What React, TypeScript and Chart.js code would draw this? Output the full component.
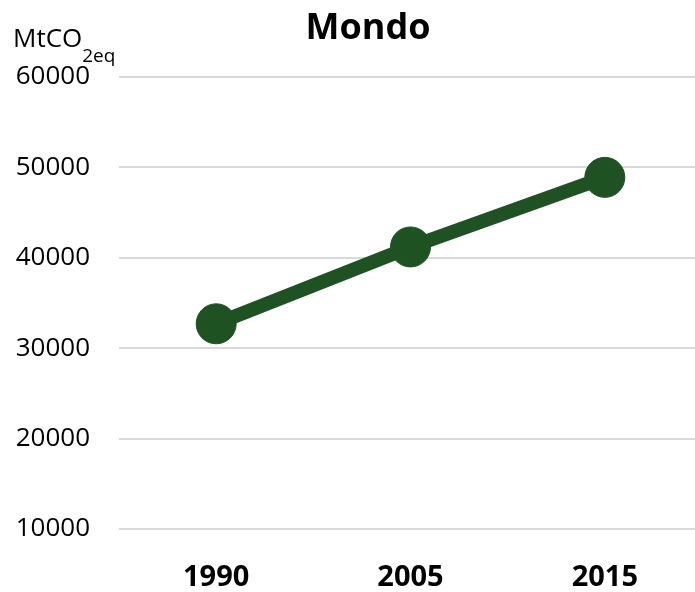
import React, { useEffect, useRef } from "react";
import { Chart, registerables } from "chart.js";

Chart.register(...registerables);

const categories: string[] = ["1990", "2005", "2015"];
const emissions: number[] = [32700, 41200, 48900];
const yMin = 10000;
const yMax = 60000;
const yStep = 10000;
const chartTitle = "Mondo";
const unitMain = "MtCO";
const unitSub = "2eq";

const FONT = "'Open Sans', 'Noto Sans', sans-serif";
const GREEN = "#1f5223";

const textPlugin = {
  id: "customText",
  afterDraw(chart: Chart) {
    const ctx = chart.ctx;
    ctx.save();
    ctx.fillStyle = "#000000";
    ctx.textBaseline = "alphabetic";
    ctx.font = `bold 36px ${FONT}`;
    ctx.textAlign = "center";
    ctx.fillText(chartTitle, 368, 39);
    ctx.textAlign = "left";
    ctx.font = `26px ${FONT}`;
    ctx.fillText(unitMain, 13, 47);
    const w = ctx.measureText(unitMain).width;
    ctx.font = `19px ${FONT}`;
    ctx.fillText(unitSub, 13 + w, 62);
    ctx.restore();
  },
};

export default function App() {
  const ref = useRef<HTMLCanvasElement | null>(null);
  useEffect(() => {
    if (!ref.current) return;
    const chart = new Chart(ref.current, {
      type: "line",
      data: {
        labels: categories,
        datasets: [
          {
            data: emissions,
            borderColor: GREEN,
            backgroundColor: GREEN,
            borderWidth: 14,
            pointRadius: 20,
            pointBorderWidth: 1,
            pointBackgroundColor: GREEN,
            pointBorderColor: GREEN,
            fill: false,
            tension: 0,
          },
        ],
      },
      options: {
        responsive: false,
        animation: false,
        devicePixelRatio: 1,
        layout: { autoPadding: false, padding: { top: 77, right: 0, bottom: 0, left: 0 } },
        plugins: {
          legend: { display: false },
          title: { display: false },
          tooltip: { enabled: false },
        },
        scales: {
          x: {
            offset: true,
            grid: { display: false, drawTicks: false },
            border: { display: false },
            ticks: {
              color: "#000000",
              font: { family: FONT, size: 29, weight: "bold" },
              padding: 31,
              maxRotation: 0,
            },
            afterFit(scale: any) {
              scale.height = 63;
            },
          },
          y: {
            min: yMin,
            max: yMax,
            grid: { color: "#d9d9d9", lineWidth: 2, drawTicks: false },
            border: { display: false },
            ticks: {
              stepSize: yStep,
              color: "#000000",
              font: { family: FONT, size: 26 },
              padding: 29,
              callback: (v: any) => String(v),
            },
            afterFit(scale: any) {
              scale.width = 119;
            },
          },
        },
      },
      plugins: [textPlugin],
    });
    return () => chart.destroy();
  }, []);
  return (
    <div
      style={{
        position: "fixed",
        left: 0,
        top: 0,
        width: 695,
        height: 592,
        overflow: "hidden",
        background: "#ffffff",
      }}
    >
      <canvas ref={ref} width={702} height={592} style={{ width: 702, height: 592, display: "block" }} />
    </div>
  );
}
